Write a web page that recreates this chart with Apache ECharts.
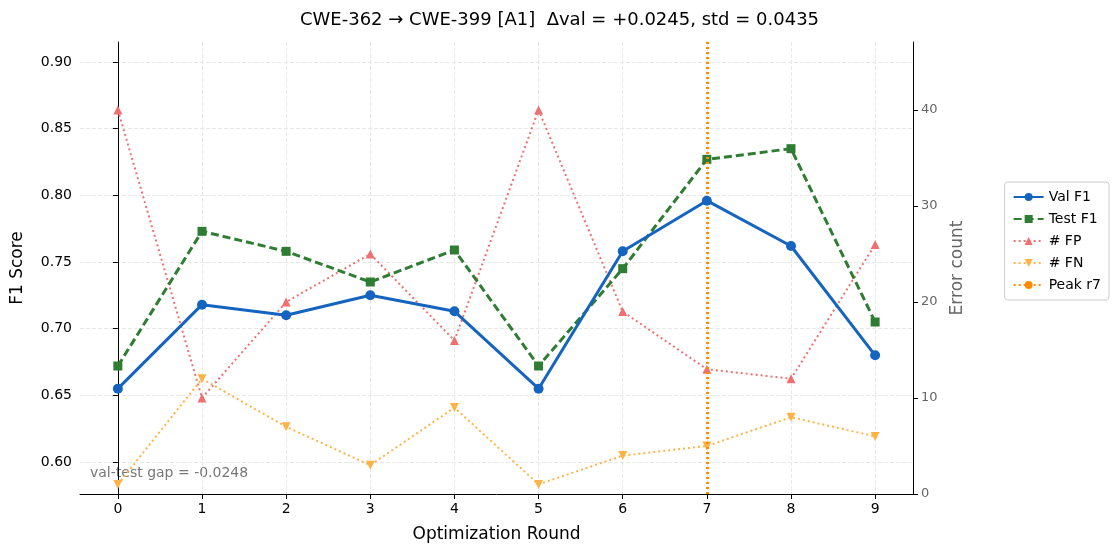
<!DOCTYPE html>
<html><head><meta charset="utf-8">
<script src="https://cdn.jsdelivr.net/npm/echarts@6/dist/echarts.min.js"></script>
<style>html,body{margin:0;background:#fff}#c{width:1119px;height:554px}</style>
</head><body><div id="c"></div>
<script>
const rounds = [0, 1, 2, 3, 4, 5, 6, 7, 8, 9];
const valF1 = [0.655, 0.718, 0.710, 0.725, 0.713, 0.655, 0.758, 0.796, 0.762, 0.680];
const testF1 = [0.672, 0.773, 0.758, 0.735, 0.759, 0.672, 0.745, 0.827, 0.835, 0.705];
const fpCount = [40, 10, 20, 25, 16, 40, 19, 13, 12, 26];
const fnCount = [1, 12, 7, 3, 9, 1, 4, 5, 8, 6];
const leftTicks = [0.60, 0.65, 0.70, 0.75, 0.80, 0.85, 0.90];
const rightTicks = [0, 10, 20, 30, 40];
const peakRound = 7;

function pairs(vals) { return vals.map((v, i) => [rounds[i], v]); }

let chart = echarts.init(document.getElementById('c'));
const font = 'DejaVu Sans';
chart.setOption({
    animation: false,
    textStyle: { fontFamily: font },
    title: { text: 'CWE-362 → CWE-399 [A1]  Δval = +0.0245, std = 0.0435', left: 'center', top: 6,
        textStyle: { fontSize: 18, fontWeight: 'normal', color: '#000', fontFamily: font } },
    grid: { left: 80, right: 206, top: 42, bottom: 60 },
    legend: {
        orient: 'vertical', right: 10, top: 182, itemGap: 8, itemWidth: 30, itemHeight: 10,
        backgroundColor: '#fff', borderColor: '#ccc', borderWidth: 1, borderRadius: 3, padding: [8, 8],
        textStyle: { fontSize: 14, color: '#000' },
        data: ['Val F1', 'Test F1', '# FP', '# FN', 'Peak r7']
    },
    xAxis: {
        type: 'value', min: -0.45, max: 9.45,
        name: 'Optimization Round', nameLocation: 'middle', nameGap: 32,
        nameTextStyle: { fontSize: 17, color: '#000' },
        axisLine: { lineStyle: { color: '#000' } },
        axisTick: { show: true, customValues: rounds, lineStyle: { color: '#000' } },
        axisLabel: { fontSize: 14, color: '#000', customValues: rounds },
        splitLine: { show: true, lineStyle: { color: '#e8e8e8', type: 'dashed' } }
    },
    yAxis: [{
        type: 'value', min: 0.576, max: 0.915,
        name: 'F1 Score', nameLocation: 'middle', nameGap: 54,
        nameTextStyle: { fontSize: 17, color: '#000' },
        axisLine: { show: true, lineStyle: { color: '#000' } },
        axisLabel: { fontSize: 14, color: '#000', customValues: leftTicks, formatter: v => v.toFixed(2) },
        axisTick: { show: true, customValues: leftTicks },
        splitLine: { show: true, lineStyle: { color: '#e8e8e8', type: 'dashed' } }
    }, {
        type: 'value', min: 0, max: 47.08,
        name: 'Error count', nameLocation: 'middle', nameGap: 36,
        nameTextStyle: { fontSize: 17, color: '#666' },
        axisLine: { show: true, lineStyle: { color: '#000' } },
        axisLabel: { fontSize: 13, color: '#666', customValues: rightTicks },
        axisTick: { show: true, customValues: rightTicks },
        splitLine: { show: false }
    }],
    series: [
        { name: 'Val F1', type: 'line', data: pairs(valF1), symbol: 'circle', symbolSize: 10, z: 5,
          itemStyle: { color: '#1565c0' }, lineStyle: { width: 3, color: '#1565c0' },
          markLine: { silent: true, symbol: 'none', label: { show: false },
              lineStyle: { color: '#ff8c00', type: [2, 3], width: 3 }, data: [{ xAxis: peakRound }] } },
        { name: 'Test F1', type: 'line', data: pairs(testF1), symbol: 'rect', symbolSize: 9, z: 4,
          itemStyle: { color: '#2e7d32' }, lineStyle: { width: 3, type: [8, 4], color: '#2e7d32' } },
        { name: '# FP', type: 'line', yAxisIndex: 1, data: pairs(fpCount), symbol: 'triangle', symbolSize: 9,
          itemStyle: { color: '#ef7070' }, lineStyle: { width: 2, type: [2, 3], color: '#ef7070' } },
        { name: '# FN', type: 'line', yAxisIndex: 1, data: pairs(fnCount), symbol: 'triangle', symbolRotate: 180, symbolSize: 9,
          itemStyle: { color: '#ffb347' }, lineStyle: { width: 2, type: [2, 3], color: '#ffb347' } },
        { name: 'Peak r7', type: 'line', data: [], symbol: 'none',
          itemStyle: { color: '#ff8c00' }, lineStyle: { width: 3, type: [2, 3], color: '#ff8c00' } }
    ],
    graphic: [{ type: 'text', left: 90, top: 466,
        style: { text: 'val-test gap = -0.0248', fontSize: 14, fill: '#777', fontFamily: font } }]
});
</script></body></html>
